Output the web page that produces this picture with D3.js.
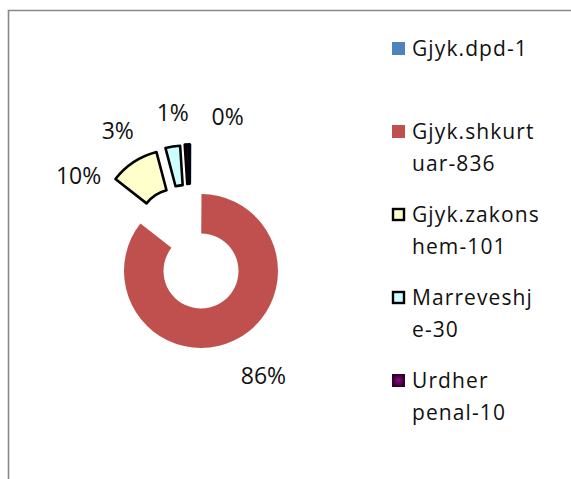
<!DOCTYPE html>
<html>
<head>
<meta charset="utf-8">
<script src="https://cdn.jsdelivr.net/npm/d3@7"></script>
<style>
  body { margin: 0; background: #fff; }
  svg { display: block; }
  text { font-family: "Open Sans", Lato, sans-serif; fill: #111; }
</style>
</head>
<body>
<svg id="chart" width="571" height="479"></svg>
<script>
// Case categories and their counts
const categories = ["Gjyk.dpd", "Gjyk.shkurtuar", "Gjyk.zakonshem", "Marreveshje", "Urdher penal"];
const counts = [1, 836, 101, 30, 10];

// Slice styling
const fills = ["#4F81BD", "#C0504D", "#FFFFCC", "#CCFFFF", "#1a0016"];
const outlined = [false, false, true, true, true];
// pulled-out distance (px) and direction tweak (deg) for each slice
const explodeDist = [51, 0, 51, 51, 51];
const explodeTilt = [-11, 0, 4, -9, -11];
// percentage label direction tweak (deg) and gap beyond the outer radius (px)
const labelTilt = [19, -5, -29, -27, -7];
const labelGap = [33, 45, 33, 37, 33];

const W = 571, H = 479;
const cx = 201, cy = 271, R = 77, r0 = 37.5;

const svg = d3.select("#chart");

// chart frame (left and top edges)
svg.append("path")
  .attr("d", `M8.5,${H} V10.5 H${W}`)
  .attr("fill", "none")
  .attr("stroke", "#878787")
  .attr("stroke-width", 1.6);

// percentages rounded so that they add up to 100 (largest remainder)
const total = d3.sum(counts);
const raw = counts.map(v => v / total * 100);
const pct = raw.map(Math.floor);
let left = 100 - d3.sum(pct);
d3.range(raw.length)
  .sort((a, b) => (raw[b] - pct[b]) - (raw[a] - pct[a]))
  .slice(0, left)
  .forEach(i => pct[i] += 1);

const pie = d3.pie().sort(null).value(d => d)(counts);
const arc = d3.arc().innerRadius(r0).outerRadius(R);
const rad = a => a * Math.PI / 180;
const polar = (ang, d) => [Math.sin(ang) * d, -Math.cos(ang) * d];

const g = svg.append("g").attr("transform", `translate(${cx},${cy})`);

pie.forEach((p, i) => {
  const mid = (p.startAngle + p.endAngle) / 2;
  const [ox, oy] = polar(mid + rad(explodeTilt[i]), explodeDist[i]);
  g.append("path")
    .attr("d", arc(p))
    .attr("transform", `translate(${ox},${oy})`)
    .attr("fill", fills[i])
    .attr("stroke", outlined[i] ? "#000" : "none")
    .attr("stroke-width", 2.6)
    .attr("stroke-linejoin", "round");

  const [lx, ly] = polar(mid + rad(labelTilt[i]), R + labelGap[i]);
  g.append("text")
    .attr("x", ox + lx)
    .attr("y", oy + ly)
    .attr("dy", "0.36em")
    .attr("text-anchor", "middle")
    .style("font-size", "23px")
    .text(pct[i] + "%");
});

// Legend
const defs = svg.append("defs");
const grad = defs.append("radialGradient").attr("id", "penalGrad");
grad.append("stop").attr("offset", "0%").attr("stop-color", "#8a0a86");
grad.append("stop").attr("offset", "100%").attr("stop-color", "#2c002a");
const legendFills = ["#4F81BD", "#C0504D", "#FFFFCC", "#CCFFFF", "url(#penalGrad)"];

const legX = 392, textX = 412, firstBase = 56, rowStep = 83, lineStep = 32, box = 13;
const maxLineW = 131;
const leg = svg.append("g");

const probe = leg.append("text")
  .style("font-size", "21px").style("letter-spacing", "1.1px");
function wrap(str) {
  const lines = [];
  let cur = "";
  for (const ch of str) {
    const test = cur + ch;
    probe.text(test);
    if (cur && probe.node().getComputedTextLength() > maxLineW) {
      const sp = cur.lastIndexOf(" ");
      if (sp > 0) {
        lines.push(cur.slice(0, sp));
        cur = cur.slice(sp + 1) + ch;
      } else {
        lines.push(cur);
        cur = ch === " " ? "" : ch;
      }
    } else {
      cur = test;
    }
  }
  if (cur) lines.push(cur);
  return lines;
}

categories.forEach((c, i) => {
  const base = firstBase + i * rowStep;
  const lines = wrap(c + "-" + counts[i]);
  const outline = outlined[i] && i !== 4;
  leg.append("rect")
    .attr("x", legX + (outline ? 1 : 0))
    .attr("y", base - 14 + (outline ? 1 : 0))
    .attr("width", box - (outline ? 2 : 0))
    .attr("height", box - (outline ? 2 : 0))
    .attr("fill", legendFills[i])
    .attr("stroke", outline ? "#000" : "none")
    .attr("stroke-width", 2.4);
  const t = leg.append("text")
    .attr("x", textX)
    .attr("y", base)
    .style("font-size", "21px")
    .style("letter-spacing", "1.1px");
  lines.forEach((ln, k) => {
    t.append("tspan").attr("x", textX).attr("y", base + k * lineStep).text(ln);
  });
});
probe.remove();
</script>
</body>
</html>
